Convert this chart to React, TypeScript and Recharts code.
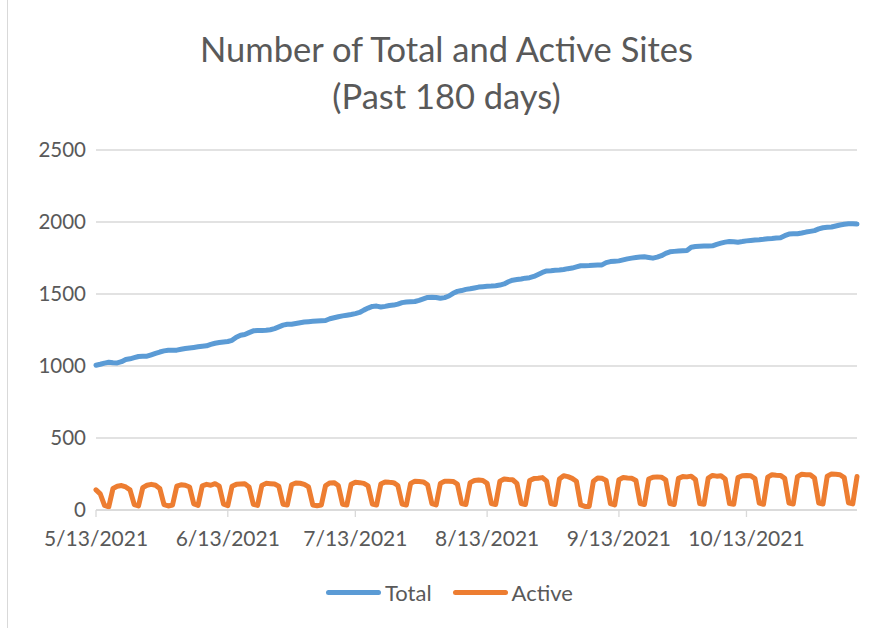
import React from 'react';
import { LineChart, Line, XAxis, YAxis, CartesianGrid, Legend } from 'recharts';

const TOTAL: number[] = [
  1005, 1012, 1020, 1026, 1022, 1021, 1030, 1045, 1050, 1058,
  1066, 1068, 1068, 1078, 1088, 1097, 1105, 1109, 1109, 1110,
  1116, 1121, 1125, 1129, 1133, 1137, 1140, 1150, 1158, 1163,
  1167, 1170, 1178, 1200, 1214, 1219, 1232, 1244, 1246, 1246,
  1248, 1252, 1260, 1272, 1284, 1290, 1290, 1295, 1300, 1305,
  1308, 1310, 1312, 1314, 1316, 1328, 1335, 1342, 1348, 1353,
  1358, 1364, 1372, 1388, 1402, 1414, 1416, 1410, 1414, 1420,
  1423, 1430, 1440, 1444, 1446, 1448, 1456, 1466, 1476, 1478,
  1476, 1470, 1475, 1486, 1505, 1518, 1524, 1532, 1536, 1542,
  1548, 1551, 1553, 1555, 1558, 1562, 1570, 1585, 1596, 1600,
  1604, 1610, 1613, 1622, 1636, 1650, 1660, 1662, 1665, 1666,
  1670, 1676, 1680, 1688, 1696, 1697, 1698, 1700, 1701, 1702,
  1718, 1725, 1728, 1730, 1737, 1744, 1749, 1753, 1757, 1758,
  1754, 1749, 1756, 1766, 1782, 1793, 1796, 1798, 1800, 1802,
  1825, 1830, 1832, 1833, 1834, 1835, 1845, 1853, 1860, 1865,
  1863, 1860, 1864, 1869, 1872, 1875, 1877, 1880, 1884, 1886,
  1889, 1891, 1905, 1916, 1918, 1919, 1924, 1930, 1935, 1940,
  1952, 1960, 1963, 1965, 1972, 1979, 1984, 1988, 1988, 1986,
];

const ACTIVE: number[] = [
  140, 112, 32, 22, 150, 165, 170,
  160, 140, 38, 28, 155, 172, 178,
  172, 150, 38, 28, 35, 165, 175,
  172, 160, 42, 32, 168, 178, 172,
  183, 165, 40, 30, 165, 178, 180,
  182, 160, 40, 32, 170, 185, 183,
  180, 165, 40, 35, 175, 188, 186,
  178, 160, 35, 30, 35, 170, 188,
  190, 170, 40, 35, 178, 192, 190,
  185, 168, 42, 35, 180, 195, 192,
  190, 170, 42, 35, 185, 200, 198,
  195, 175, 45, 35, 185, 200, 200,
  198, 180, 45, 38, 190, 205, 208,
  205, 185, 45, 38, 200, 215, 212,
  210, 185, 45, 38, 205, 218, 220,
  225, 200, 45, 38, 215, 238, 232,
  220, 200, 35, 25, 25, 200, 222,
  220, 205, 45, 35, 210, 225, 222,
  220, 205, 45, 38, 215, 228, 230,
  228, 210, 45, 38, 220, 232, 230,
  235, 212, 45, 40, 222, 240, 235,
  238, 215, 45, 40, 225, 238, 240,
  238, 218, 48, 40, 228, 245, 242,
  240, 220, 48, 42, 232, 248, 245,
  245, 222, 48, 42, 235, 250, 248,
  245, 225, 50, 42, 232,
];

const SERIES = ['Total', 'Active'];
const X_TICKS = ['5/13/2021', '6/13/2021', '7/13/2021', '8/13/2021', '9/13/2021', '10/13/2021'];
const Y_TICKS = [0, 500, 1000, 1500, 2000, 2500];

const START_DATE = new Date(2021, 4, 13);
const DATES: string[] = TOTAL.map((_, i) => {
  const d = new Date(START_DATE.getFullYear(), START_DATE.getMonth(), START_DATE.getDate() + i);
  return `${d.getMonth() + 1}/${d.getDate()}/${d.getFullYear()}`;
});

const data = DATES.map((date, i) => ({ date, Total: TOTAL[i], Active: ACTIVE[i] }));

const FONT = 'Lato, "Open Sans", sans-serif';
const TEXT = '#595959';
const GRID = '#d9d9d9';

const LegendContent = (props: any) => {
  const payload = [...(props.payload || [])].sort(
    (a: any, b: any) => SERIES.indexOf(a.value) - SERIES.indexOf(b.value)
  );
  return (
    <div style={{ display: 'flex', justifyContent: 'flex-start', alignItems: 'center', fontFamily: FONT, fontSize: 22, color: TEXT, paddingLeft: 326 }}>
      {payload.map((p: any, i: number) => (
        <div key={i} style={{ display: 'flex', alignItems: 'center', marginRight: i === 0 ? 21 : 0 }}>
          <div style={{ width: 55, height: 5, borderRadius: 3, background: p.color, marginRight: 4 }} />
          <span>{p.value}</span>
        </div>
      ))}
    </div>
  );
};

export default function App() {
  return (
    <div style={{ position: 'absolute', left: 0, top: 0, width: 876, height: 628, background: '#fff' }}>
      <div style={{ position: 'absolute', left: 7, top: 0, width: 1, height: 628, background: GRID }} />
      <div style={{ position: 'absolute', left: 0, top: 25, width: 893, textAlign: 'center', fontFamily: FONT, fontSize: 34.5, color: TEXT, lineHeight: '47px' }}>
        <div>Number of Total and Active Sites</div>
        <div>(Past 180 days)</div>
      </div>
      <LineChart width={876} height={628} data={data} margin={{ top: 150, right: 19, bottom: 58, left: 0 }}>
        <CartesianGrid vertical={false} stroke={GRID} strokeWidth={1.3} />
        <XAxis
          dataKey="date"
          ticks={X_TICKS}
          interval={0}
          stroke={GRID}
          tickSize={7}
          tickMargin={14}
          tick={{ fill: TEXT, fontSize: 21, fontFamily: FONT }}
          axisLine={{ stroke: GRID, strokeWidth: 1.3 }}
          tickLine={{ stroke: GRID, strokeWidth: 1.3 }}
        />
        <YAxis
          width={96}
          domain={[0, 2500]}
          ticks={Y_TICKS}
          axisLine={false}
          tickLine={false}
          tickMargin={4}
          tick={{ fill: TEXT, fontSize: 20.5, fontFamily: FONT }}
        />
        <Legend
          verticalAlign="bottom"
          height={30}
          wrapperStyle={{ top: 579, bottom: 'auto', left: 0, width: 876 }}
          content={<LegendContent />}
        />
        <Line type="linear" dataKey="Total" stroke="#5B9BD5" strokeWidth={5} dot={false} strokeLinejoin="round" strokeLinecap="round" isAnimationActive={false} />
        <Line type="linear" dataKey="Active" stroke="#ED7D31" strokeWidth={5} dot={false} strokeLinejoin="round" strokeLinecap="round" isAnimationActive={false} />
      </LineChart>
    </div>
  );
}
